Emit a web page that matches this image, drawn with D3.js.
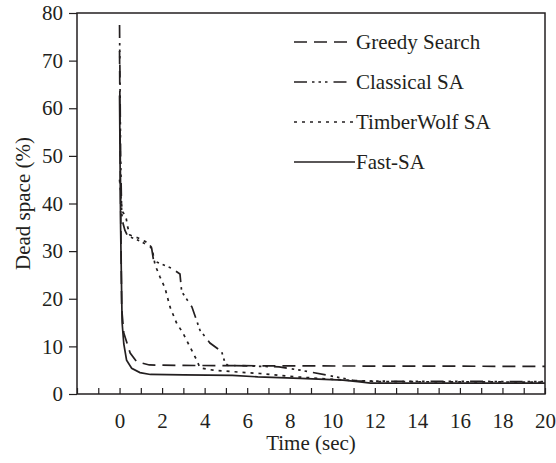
<!DOCTYPE html>
<html>
<head>
<meta charset="utf-8">
<script src="https://cdn.jsdelivr.net/npm/d3@7"></script>
<style>
  body { margin: 0; background: #fff; }
  svg text { font-family: "Liberation Serif", "DejaVu Serif", serif !important; fill: #231f20; }
</style>
</head>
<body>
<div id="chart"></div>
<script>
// series values: [time (sec), dead space (%)]
const greedySearch = [[0,72],[0.05,40],[0.1,18],[0.2,12.8],[0.5,8.6],[0.8,6.8],[1.4,6.1],[3,6.0],[8,5.9],[20,5.8]];
const classicalSA = [[0,77.5],[0.05,50],[0.1,38],[0.16,35.9],[0.25,34.4],[0.38,33.2],[0.87,32.3],[1.3,31.3],[1.51,30.6],
  [1.6,28],[1.9,27.4],[2.45,26.4],[2.84,25.2],[2.92,21.5],[3.4,18.3],[3.78,13.4],[4.25,10.7],[4.8,8.9],[4.96,6.5],
  [5.1,6.0],[7.5,5.7],[8.5,5.0],[9.7,4.0],[11.15,2.7],[20,2.6]];
const timberWolfSA = [[0,45],[0.08,40.4],[0.14,38.3],[0.3,37.2],[0.38,35.1],[0.48,33.4],[0.85,32.8],[1.35,31.7],[1.53,30.6],
  [1.67,27.1],[1.9,24.6],[2.14,22.2],[2.37,18.3],[2.68,14.9],[2.98,12.8],[3.31,9.9],[3.63,7.1],[3.78,5.5],[4.4,5.0],
  [5.3,4.7],[6.6,4.3],[8.3,3.6],[10.7,2.9],[12.25,2.6],[20,2.5]];
const fastSA = [[0,62.7],[0.05,35],[0.12,15],[0.2,10.5],[0.33,7.1],[0.57,5.4],[0.96,4.5],[1.45,4.1],[3,4.0],[5.3,3.9],
  [6.5,3.6],[8.5,3.3],[10.5,2.9],[11.2,2.6],[11.8,2.3],[20,2.3]];

const seriesNames = ["Greedy Search", "Classical SA", "TimberWolf SA", "Fast-SA"];
const xTicks = d3.range(-2, 21, 1);
const xLabels = d3.range(0, 21, 2);
const yTicks = d3.range(0, 81, 10);

const font = '"Liberation Serif", "DejaVu Serif", serif';

const margin = {top: 13, right: 11, bottom: 69, left: 77},
    width = 556 - margin.left - margin.right,
    height = 463 - margin.top - margin.bottom;

const svg = d3.select("#chart")
  .append("svg")
    .attr("width", 556)
    .attr("height", 463)
    .attr("font-family", font)
  .append("g")
    .attr("transform", `translate(${margin.left}, ${margin.top})`);

const x = d3.scaleLinear().domain([-2, 20]).range([0, width]);
const y = d3.scaleLinear().domain([0, 80]).range([height, 0]);

// x axis: ticks every second, pointing inward, labels on even values
const xAxis = svg.append("g")
  .attr("transform", `translate(0, ${height})`)
  .call(d3.axisBottom(x).tickValues(xTicks).tickSizeInner(-6).tickSizeOuter(0)
    .tickPadding(19).tickFormat(d => xLabels.includes(d) ? d : ""));
xAxis.attr("font-family", font);
xAxis.select(".domain").remove();
xAxis.selectAll("line").attr("stroke", "#231f20").attr("stroke-width", 1.2);
xAxis.selectAll("text").attr("font-size", "21px");

// y axis: ticks pointing outward
const yAxis = svg.append("g")
  .call(d3.axisLeft(y).tickValues(yTicks).tickSizeInner(8).tickSizeOuter(0).tickPadding(6));
yAxis.attr("font-family", font);
yAxis.select(".domain").remove();
yAxis.selectAll("line").attr("stroke", "#231f20").attr("stroke-width", 1.2);
yAxis.selectAll("text").attr("font-size", "21px");

// frame
svg.append("rect")
  .attr("width", width)
  .attr("height", height)
  .attr("fill", "none")
  .attr("stroke", "#231f20")
  .attr("stroke-width", 1.5);

// axis labels
svg.append("text")
  .attr("x", width / 2)
  .attr("y", height + 56)
  .attr("font-size", "21px")
  .attr("text-anchor", "middle")
  .text("Time (sec)");

svg.append("text")
  .attr("transform", "rotate(-90)")
  .attr("x", -height / 2)
  .attr("y", -47)
  .attr("font-size", "21px")
  .attr("text-anchor", "middle")
  .text("Dead space (%)");

const styles = [
  {data: greedySearch, dash: "13,7", len: 53},
  {data: classicalSA, dash: "13,5,2.5,4,2.5,4,2.5,6", len: 53},
  {data: timberWolfSA, dash: "3,5", len: 61},
  {data: fastSA, dash: null, len: 61}
];

const line = d3.line()
  .x(d => x(d[0]))
  .y(d => y(d[1]));

svg.append("g")
  .selectAll("path")
  .data(styles)
  .join("path")
    .attr("d", d => line(d.data))
    .attr("fill", "none")
    .attr("stroke", "#231f20")
    .attr("stroke-width", 1.7)
    .attr("stroke-dasharray", d => d.dash);

// legend
const legend = svg.append("g")
  .attr("transform", `translate(${294 - margin.left}, ${42 - margin.top})`);

const rows = legend.selectAll("g")
  .data(styles)
  .join("g")
    .attr("transform", (d, i) => `translate(0, ${i * 40})`);

rows.append("line")
  .attr("x1", 0)
  .attr("x2", d => d.len)
  .attr("stroke", "#231f20")
  .attr("stroke-width", 1.7)
  .attr("stroke-dasharray", d => d.dash);

rows.append("text")
  .attr("x", 62)
  .attr("dy", "0.33em")
  .attr("font-size", "21px")
  .text((d, i) => seriesNames[i]);
</script>
</body>
</html>
